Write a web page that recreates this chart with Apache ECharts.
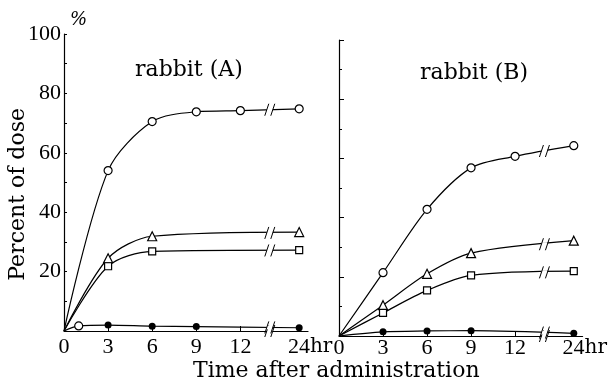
<!DOCTYPE html>
<html>
<head>
<meta charset="utf-8">
<script src="https://cdn.jsdelivr.net/npm/echarts@6/dist/echarts.min.js"></script>
<style>
html, body { margin: 0; padding: 0; background: #fff; }
#chart { width: 610px; height: 385px; }
</style>
</head>
<body>
<div id="chart"></div>
<script>
// time points (hr) and tick labels
var hours = [0, 3, 6, 9, 12, 24];
var tickLabels = ['0', '3', '6', '9', '12', '24'];
var yTicks = [0, 20, 40, 60, 80, 100];

// rabbit (A)
var aCircle = [0, 54, 70.5, 73.8, 74.2, 74.8];
var aTriangle = [0, 24.5, 31.9, null, null, 33.3];
var aSquare = [0, 21.8, 26.8, null, null, 27.2];
var aDot = [0, 2.0, 1.6, 1.5, null, 1.1];
var aEarlyHour = 1;
var aEarlyValue = 1.7;

// rabbit (B)
var bCircle = [0, 21.4, 42.8, 56.8, 60.7, 64.3];
var bTriangle = [0, 10.4, 21, 28, null, 32.2];
var bSquare = [0, 7.8, 15.4, 20.5, null, 21.9];
var bDot = [0, 1.4, 1.7, 1.8, null, 0.9];

// broken time axis: 24 hr is drawn just after the break
var BREAK_POS = 14;
var POS_24 = 16;
function pos(h) { return h === 24 ? POS_24 : h; }

var FONT = 'DejaVu Serif';
var NUM_FONT = 'Liberation Serif';

function points(vals) {
  var out = [];
  hours.forEach(function (h, i) {
    if (vals[i] != null) out.push([pos(h), vals[i]]);
  });
  return out;
}

// y of the straight segment crossing the break
function breakY(vals) {
  var pts = points(vals);
  var last = pts[pts.length - 1];
  var prev = pts[pts.length - 2];
  return prev[1] + (last[1] - prev[1]) * (BREAK_POS - prev[0]) / (last[0] - prev[0]);
}

var hollow = { color: '#fff', borderColor: '#000', borderWidth: 1.2 };
var kinds = [
  { symbol: 'circle', size: 8, style: hollow },
  { symbol: 'triangle', size: 9, style: hollow },
  { symbol: 'rect', size: 7, style: hollow },
  { symbol: 'circle', size: 7, style: { color: '#000' } }
];

function lineSeries(vals, kind, idx, extra) {
  var data = points(vals);
  if (extra) {
    data.splice(1, 0, { value: extra, itemStyle: hollow, symbolSize: 8 });
  }
  return {
    type: 'line',
    xAxisIndex: idx, yAxisIndex: idx,
    data: data,
    smooth: 0.3,
    symbol: function (v, p) { return p.dataIndex === 0 ? 'none' : kind.symbol; },
    symbolSize: kind.size,
    showAllSymbol: true,
    lineStyle: { color: '#000', width: 1.2 },
    itemStyle: kind.style,
    z: 2
  };
}

function renderBreak(params, api) {
  var p = api.coord([api.value(0), api.value(1)]);
  var x = p[0], y = p[1];
  return {
    type: 'group',
    children: [
      { type: 'rect', shape: { x: x - 3, y: y - 2, width: 6, height: 4 }, style: { fill: '#fff' } },
      { type: 'line', shape: { x1: x - 5, y1: y + 6, x2: x - 1, y2: y - 6 }, style: { stroke: '#000', lineWidth: 1 } },
      { type: 'line', shape: { x1: x + 1, y1: y + 6, x2: x + 5, y2: y - 6 }, style: { stroke: '#000', lineWidth: 1 } }
    ]
  };
}

function breakSeries(list, idx) {
  var data = [[BREAK_POS, 0]];
  list.forEach(function (v) { data.push([BREAK_POS, breakY(v)]); });
  return {
    type: 'custom',
    xAxisIndex: idx, yAxisIndex: idx,
    renderItem: renderBreak,
    data: data,
    clip: false,
    silent: true,
    z: 5
  };
}

function xAxis(idx, margin) {
  var tickPos = hours.map(pos);
  return {
    type: 'value',
    gridIndex: idx,
    min: 0, max: 16.6,
    axisLine: { lineStyle: { color: '#000', width: 1.2 } },
    axisTick: { inside: true, length: 5, customValues: tickPos.slice(1), lineStyle: { color: '#000' } },
    axisLabel: {
      customValues: tickPos,
      margin: margin,
      color: '#000',
      fontFamily: NUM_FONT,
      fontSize: 22,
      formatter: function (v) {
        var i = tickPos.indexOf(v);
        if (i < 0) return '';
        return hours[i] === 24 ? '{n|' + tickLabels[i] + '}{u|hr}' : tickLabels[i];
      },
      rich: {
        n: { fontFamily: NUM_FONT, fontSize: 22, color: '#000', padding: [0, 0, 0, 22] },
        u: { fontFamily: FONT, fontSize: 20, color: '#000' }
      }
    },
    splitLine: { show: false }
  };
}

function yAxis(idx, showLabels) {
  return {
    type: 'value',
    gridIndex: idx,
    min: 0, max: 100, interval: 20,
    name: showLabels ? '%' : '',
    nameLocation: 'end',
    nameGap: 5,
    nameTextStyle: { color: '#000', fontFamily: FONT, fontSize: 18, fontStyle: 'italic', align: 'left', padding: [0, 0, 0, 6] },
    axisLine: { show: true, lineStyle: { color: '#000', width: 1.2 } },
    axisTick: { show: true, inside: true, length: showLabels ? 3 : 5, lineStyle: { color: '#000' } },
    minorTick: { show: true, splitNumber: 2, length: 3, lineStyle: { color: '#000' } },
    axisLabel: {
      show: showLabels,
      margin: 3,
      color: '#000',
      fontFamily: NUM_FONT,
      fontSize: 22,
      customValues: yTicks.slice(1)
    },
    splitLine: { show: false }
  };
}

var titleStyle = { fontFamily: FONT, fontSize: 22, fontWeight: 'normal', color: '#000' };

var chart = echarts.init(document.getElementById('chart'));
chart.setOption({
  backgroundColor: '#fff',
  animation: false,
  title: [
    { text: 'rabbit (A)', left: 130, top: 54, textStyle: titleStyle },
    { text: 'rabbit (B)', left: 415, top: 57, textStyle: titleStyle }
  ],
  grid: [
    { left: 64, top: 34, width: 244, height: 297 },
    { left: 339, top: 40, width: 244, height: 296 }
  ],
  xAxis: [xAxis(0, 5), xAxis(1, 1)],
  yAxis: [yAxis(0, true), yAxis(1, false)],
  graphic: [
    { type: 'text', left: 7, top: 108, style: { text: 'Percent of dose', fontFamily: FONT, fontSize: 22, fill: '#000' }, rotation: Math.PI / 2 },
    { type: 'text', left: 193, top: 360, style: { text: 'Time after administration', fontFamily: FONT, fontSize: 22, fill: '#000' } }
  ],
  series: [
    lineSeries(aCircle, kinds[0], 0),
    lineSeries(aTriangle, kinds[1], 0),
    lineSeries(aSquare, kinds[2], 0),
    lineSeries(aDot, kinds[3], 0, [aEarlyHour, aEarlyValue]),
    breakSeries([aCircle, aTriangle, aSquare, aDot], 0),
    lineSeries(bCircle, kinds[0], 1),
    lineSeries(bTriangle, kinds[1], 1),
    lineSeries(bSquare, kinds[2], 1),
    lineSeries(bDot, kinds[3], 1),
    breakSeries([bCircle, bTriangle, bSquare, bDot], 1)
  ]
});
</script>
</body>
</html>
